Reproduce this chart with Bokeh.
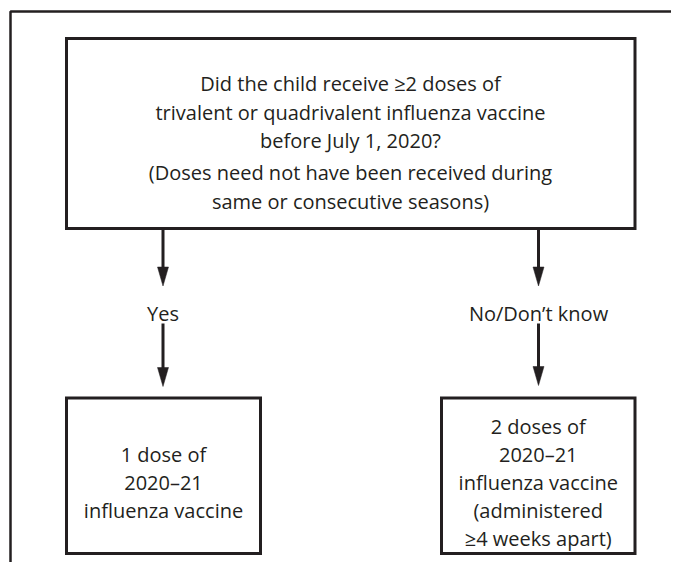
from bokeh.plotting import figure
from bokeh.models import Range1d
from bokeh.embed import file_html
from bokeh.resources import INLINE
from bokeh.core.properties import value

# ---- Text content ----
question_lines = ["Did the child receive \u22652 doses of",
                  "trivalent or quadrivalent influenza vaccine",
                  "before July 1, 2020?"]
note_lines = ["(Doses need not have been received during",
              "same or consecutive seasons)"]
branch_labels = ["Yes", "No/Don\u2019t know"]
yes_lines = ["1 dose of", "2020\u201321", "influenza vaccine"]
no_lines = ["2 doses of", "2020\u201321", "influenza vaccine",
            "(administered", "\u22654 weeks apart)"]

# ---- Layout (page pixel coordinates) ----
box_left = [67, 67, 442]
box_right = [635.5, 261, 635.5]
box_top = [39, 398.5, 398.5]
box_bottom = [229, 554, 554]

question_cx = 351
question_base = [84.3, 112.7, 140.7]
note_base = [173.3, 202.3]
branch_x = [163.5, 539]
branch_base = [314, 313.5]
yes_base = [455, 483, 511]
no_base = [427, 455, 483, 511, 539]

arrow_x = [163.5, 163.5, 539, 539]
arrow_start = [229, 324, 229, 324]
arrow_tip = [286.5, 387, 286.5, 386]
head_len = 19
head_w = 11

INK = "#231f20"
FONT = "Open Sans"
FS = "20px"

p = figure(width=671, height=562, x_range=Range1d(1, 672), y_range=Range1d(563, 1),
           output_backend="svg", toolbar_location=None, min_border=0,
           x_axis_location=None, y_axis_location=None,
           outline_line_color=None, background_fill_color="white",
           border_fill_color="white")
p.grid.visible = False

# outer frame (top + left)
p.line(x=[690, 11, 11], y=[12, 12, 580], line_color=INK, line_width=2.5)

# boxes
p.quad(left=box_left, right=box_right, top=box_top, bottom=box_bottom,
       fill_color=None, line_color=INK, line_width=3, line_join="miter")

# arrows
shaft_end = [t - head_len + 1 for t in arrow_tip]
p.segment(x0=arrow_x, y0=arrow_start, x1=arrow_x, y1=shaft_end,
          line_color=INK, line_width=3)
xs = [[x - head_w / 2, x + head_w / 2, x] for x in arrow_x]
ys = [[t - head_len, t - head_len, t] for t in arrow_tip]
p.patches(xs=xs, ys=ys, fill_color=INK, line_color=INK, line_width=0.5)

def add_text(xvals, yvals, texts):
    p.text(x=xvals, y=yvals, text=texts, text_align="center",
           text_baseline="alphabetic", text_font=value(FONT),
           text_font_size=FS, text_color=INK)

add_text([question_cx] * 3, question_base, question_lines)
add_text([question_cx] * 2, note_base, note_lines)
add_text(branch_x, branch_base, branch_labels)
yes_cx = (box_left[1] + box_right[1]) / 2
no_cx = (box_left[2] + box_right[2]) / 2
add_text([yes_cx] * len(yes_lines), yes_base, yes_lines)
add_text([no_cx] * len(no_lines), no_base, no_lines)

open("out.html", "w").write(file_html(p, INLINE))
